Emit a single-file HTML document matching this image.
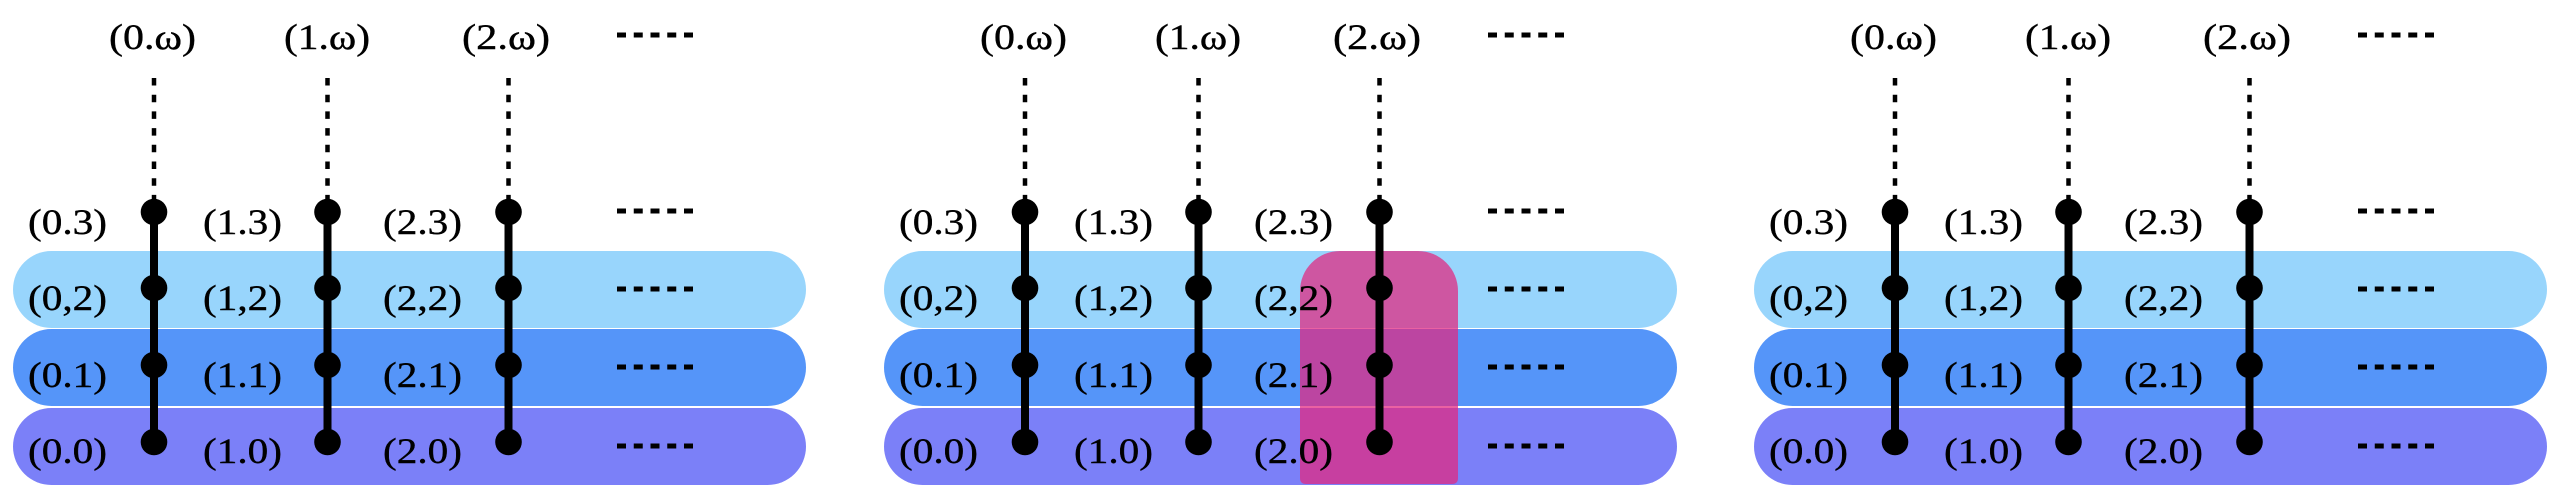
<!DOCTYPE html>
<html>
<head>
<meta charset="utf-8">
<style>
  html, body { margin: 0; padding: 0; background: #ffffff; }
  body { width: 2566px; height: 494px; overflow: hidden; }
  svg { display: block; }
  text { font-family: "Liberation Serif", "DejaVu Serif", serif; font-size: 36px; fill: #000; stroke: #000; stroke-width: 0.4px; }
</style>
</head>
<body>
<svg width="2566" height="494" viewBox="0 0 2566 494" xmlns="http://www.w3.org/2000/svg">
  <defs>
    <g id="pills">
      <rect x="13" y="251" width="793" height="77" rx="38.5" ry="38.5" fill="#98d5fc"/>
      <rect x="13" y="329" width="793" height="77" rx="38.5" ry="38.5" fill="#5595f9"/>
      <rect x="13" y="408" width="793" height="77" rx="38.5" ry="38.5" fill="#7b80f8"/>
    </g>
    <g id="struct">
      <g stroke="#000" stroke-width="4.5" stroke-dasharray="7.5 9.2" fill="none">
        <line x1="154" y1="78" x2="154" y2="200"/>
        <line x1="327.5" y1="78" x2="327.5" y2="200"/>
        <line x1="508.5" y1="78" x2="508.5" y2="200"/>
      </g>
      <g stroke="#000" stroke-width="8" fill="none">
        <line x1="154" y1="212" x2="154" y2="442"/>
        <line x1="327.5" y1="212" x2="327.5" y2="442"/>
        <line x1="508.5" y1="212" x2="508.5" y2="442"/>
      </g>
      <g fill="#000">
        <circle cx="154" cy="212" r="13.3"/>
        <circle cx="154" cy="288" r="13.3"/>
        <circle cx="154" cy="365" r="13.3"/>
        <circle cx="154" cy="442" r="13.3"/>
        <circle cx="327.5" cy="212" r="13.3"/>
        <circle cx="327.5" cy="288" r="13.3"/>
        <circle cx="327.5" cy="365" r="13.3"/>
        <circle cx="327.5" cy="442" r="13.3"/>
        <circle cx="508.5" cy="212" r="13.3"/>
        <circle cx="508.5" cy="288" r="13.3"/>
        <circle cx="508.5" cy="365" r="13.3"/>
        <circle cx="508.5" cy="442" r="13.3"/>
      </g>
      <g stroke="#000" stroke-width="5" stroke-dasharray="9 7.75" fill="none">
        <line x1="617" y1="35" x2="693" y2="35"/>
        <line x1="617" y1="211" x2="693" y2="211"/>
        <line x1="617" y1="289" x2="693" y2="289"/>
        <line x1="617" y1="367" x2="693" y2="367"/>
        <line x1="617" y1="446" x2="693" y2="446"/>
      </g>
      <text x="109" y="49" textLength="87" lengthAdjust="spacingAndGlyphs">(0.ω)</text>
      <text x="284" y="49" textLength="86" lengthAdjust="spacingAndGlyphs">(1.ω)</text>
      <text x="462" y="49" textLength="88" lengthAdjust="spacingAndGlyphs">(2.ω)</text>
      <text x="28" y="234" textLength="79" lengthAdjust="spacingAndGlyphs">(0.3)</text>
      <text x="203" y="234" textLength="79" lengthAdjust="spacingAndGlyphs">(1.3)</text>
      <text x="383" y="234" textLength="79" lengthAdjust="spacingAndGlyphs">(2.3)</text>
      <text x="28" y="310" textLength="79" lengthAdjust="spacingAndGlyphs">(0,2)</text>
      <text x="203" y="310" textLength="79" lengthAdjust="spacingAndGlyphs">(1,2)</text>
      <text x="383" y="310" textLength="79" lengthAdjust="spacingAndGlyphs">(2,2)</text>
      <text x="28" y="387" textLength="79" lengthAdjust="spacingAndGlyphs">(0.1)</text>
      <text x="203" y="387" textLength="79" lengthAdjust="spacingAndGlyphs">(1.1)</text>
      <text x="383" y="387" textLength="79" lengthAdjust="spacingAndGlyphs">(2.1)</text>
      <text x="28" y="463" textLength="79" lengthAdjust="spacingAndGlyphs">(0.0)</text>
      <text x="203" y="463" textLength="79" lengthAdjust="spacingAndGlyphs">(1.0)</text>
      <text x="383" y="463" textLength="79" lengthAdjust="spacingAndGlyphs">(2.0)</text>
    </g>
  </defs>

  <g>
    <use href="#pills"/>
    <use href="#struct"/>
  </g>

  <g transform="translate(871,0)">
    <use href="#pills"/>
    <path d="M429,291 A40,40 0 0 1 469,251 L547,251 A40,40 0 0 1 587,291 L587,478 Q587,484 581,484 L435,484 Q429,484 429,478 Z"
          fill="rgb(227,39,128)" fill-opacity="0.735"/>
    <use href="#struct"/>
  </g>

  <g transform="translate(1741,0)">
    <use href="#pills"/>
    <use href="#struct"/>
  </g>
</svg>
</body>
</html>
